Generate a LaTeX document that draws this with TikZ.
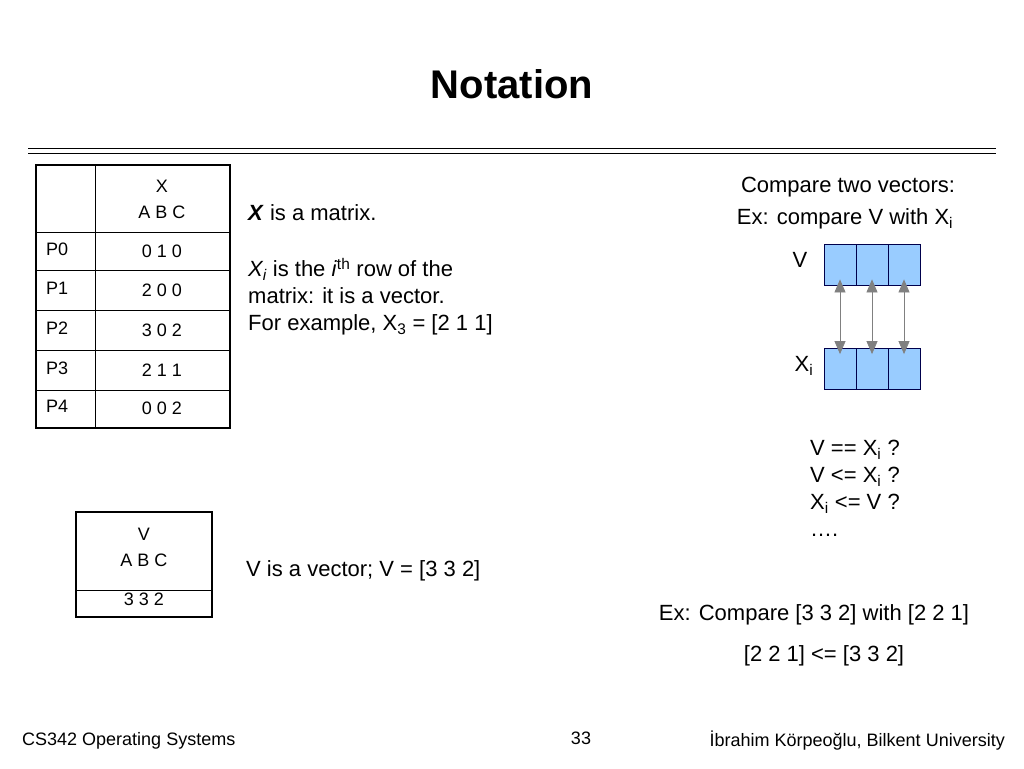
\documentclass[tikz,border=0pt]{standalone}
\usepackage{fontspec}
\setmainfont{Liberation Sans}
\usetikzlibrary{arrows.meta}
\begin{document}
\begin{tikzpicture}[x=1pt,y=-1pt,
  tx/.style={font=\fontsize{22}{27}\selectfont, inner sep=0pt},
  tt/.style={font=\fontsize{18}{22}\selectfont, inner sep=0pt},
  cell/.style={draw=black!70!blue, fill=cellblue, minimum width=32pt, minimum height=41pt, inner sep=0pt, line width=0.8pt},
  bi/.style={{Triangle[width=11pt,length=13pt]}-{Triangle[width=11pt,length=13pt]}, black!50, line width=0.8pt},
]
\definecolor{cellblue}{RGB}{153,204,255}
\useasboundingbox (0,0) rectangle (1024,768);
% title
\node[font=\fontsize{40}{48}\selectfont\bfseries] (title) at (512,84) {Notation};
\draw[line width=0.8pt] (28,148) -- (996,148);
\draw[line width=0.8pt] (28,153) -- (996,153);
% table 1
\draw[line width=0.6pt] (95,165) -- (95,428);
\foreach \y in {232,270,310,350,390} \draw[line width=0.6pt] (36,\y) -- (230,\y);
\draw[line width=2.5pt] (36,165) rectangle (230,428);
\node[tt,align=center] (h1) at (162,199) {X\\[4pt]A B C};
\foreach \p/\v/\y in {0/0 1 0/251,1/2 0 0/290,2/3 0 2/330,3/2 1 1/370,4/0 0 2/408}{
  \node[tt,anchor=west] (p\p) at (46,\y-2) {P\p};
  \node[tt] (v\p) at (162,\y) {\v};
}
% table 2
\draw[line width=0.6pt] (76,590) -- (212,590);
\draw[line width=2.5pt] (76,512) rectangle (212,617);
\node[tt,align=center] (h2) at (144,547) {V\\[4pt]A B C};
\node[tt] (vv) at (144,599) {3 3 2};
% middle text
\node[tx,anchor=west] (t1) at (248,213) {\textbf{\textit{X}} is a matrix.};
\node[tx,anchor=north west,align=left] (t2) at (248,258) {\textit{X\textsubscript{i}} is the \textit{i}\textsuperscript{th} row of the\\matrix: it is a vector.\\For example, X\textsubscript{3} = [2 1 1]};
\node[tx,anchor=west] (t3) at (246,571) {V is a vector; V = [3 3 2]};
% right
\node[tx] (c1) at (848,187) {Compare two vectors:};
\node[tx] (c2) at (845,219) {Ex: compare V with X\textsubscript{i}};
\node[tx] (lv) at (800,260) {V};
\node[tx] (lx) at (804,366) {X\textsubscript{i}};
\foreach \i/\x in {1/840,2/872,3/904}{
  \node[cell] (a\i) at (\x,264.5) {};
  \node[cell] (b\i) at (\x,369) {};
  \draw[bi] ([yshift=6pt]a\i.south) -- ([yshift=-6pt]b\i.north);
}
\node[tx,anchor=north west,align=left] (q) at (810,440) {V == X\textsubscript{i} ?\\V <= X\textsubscript{i} ?\\X\textsubscript{i} <= V ?\\….};
\node[tx] (e1) at (814,615) {Ex: Compare [3 3 2] with [2 2 1]};
\node[tx] (e2) at (824,656) {[2 2 1] <= [3 3 2]};
% footer
\node[tt,anchor=west] (f1) at (22,741) {CS342 Operating Systems};
\node[tt] (f2) at (581,738) {33};
\node[tt,anchor=east] (f3) at (1005,741) {İbrahim Körpeoğlu, Bilkent University};
\end{tikzpicture}
\end{document}
